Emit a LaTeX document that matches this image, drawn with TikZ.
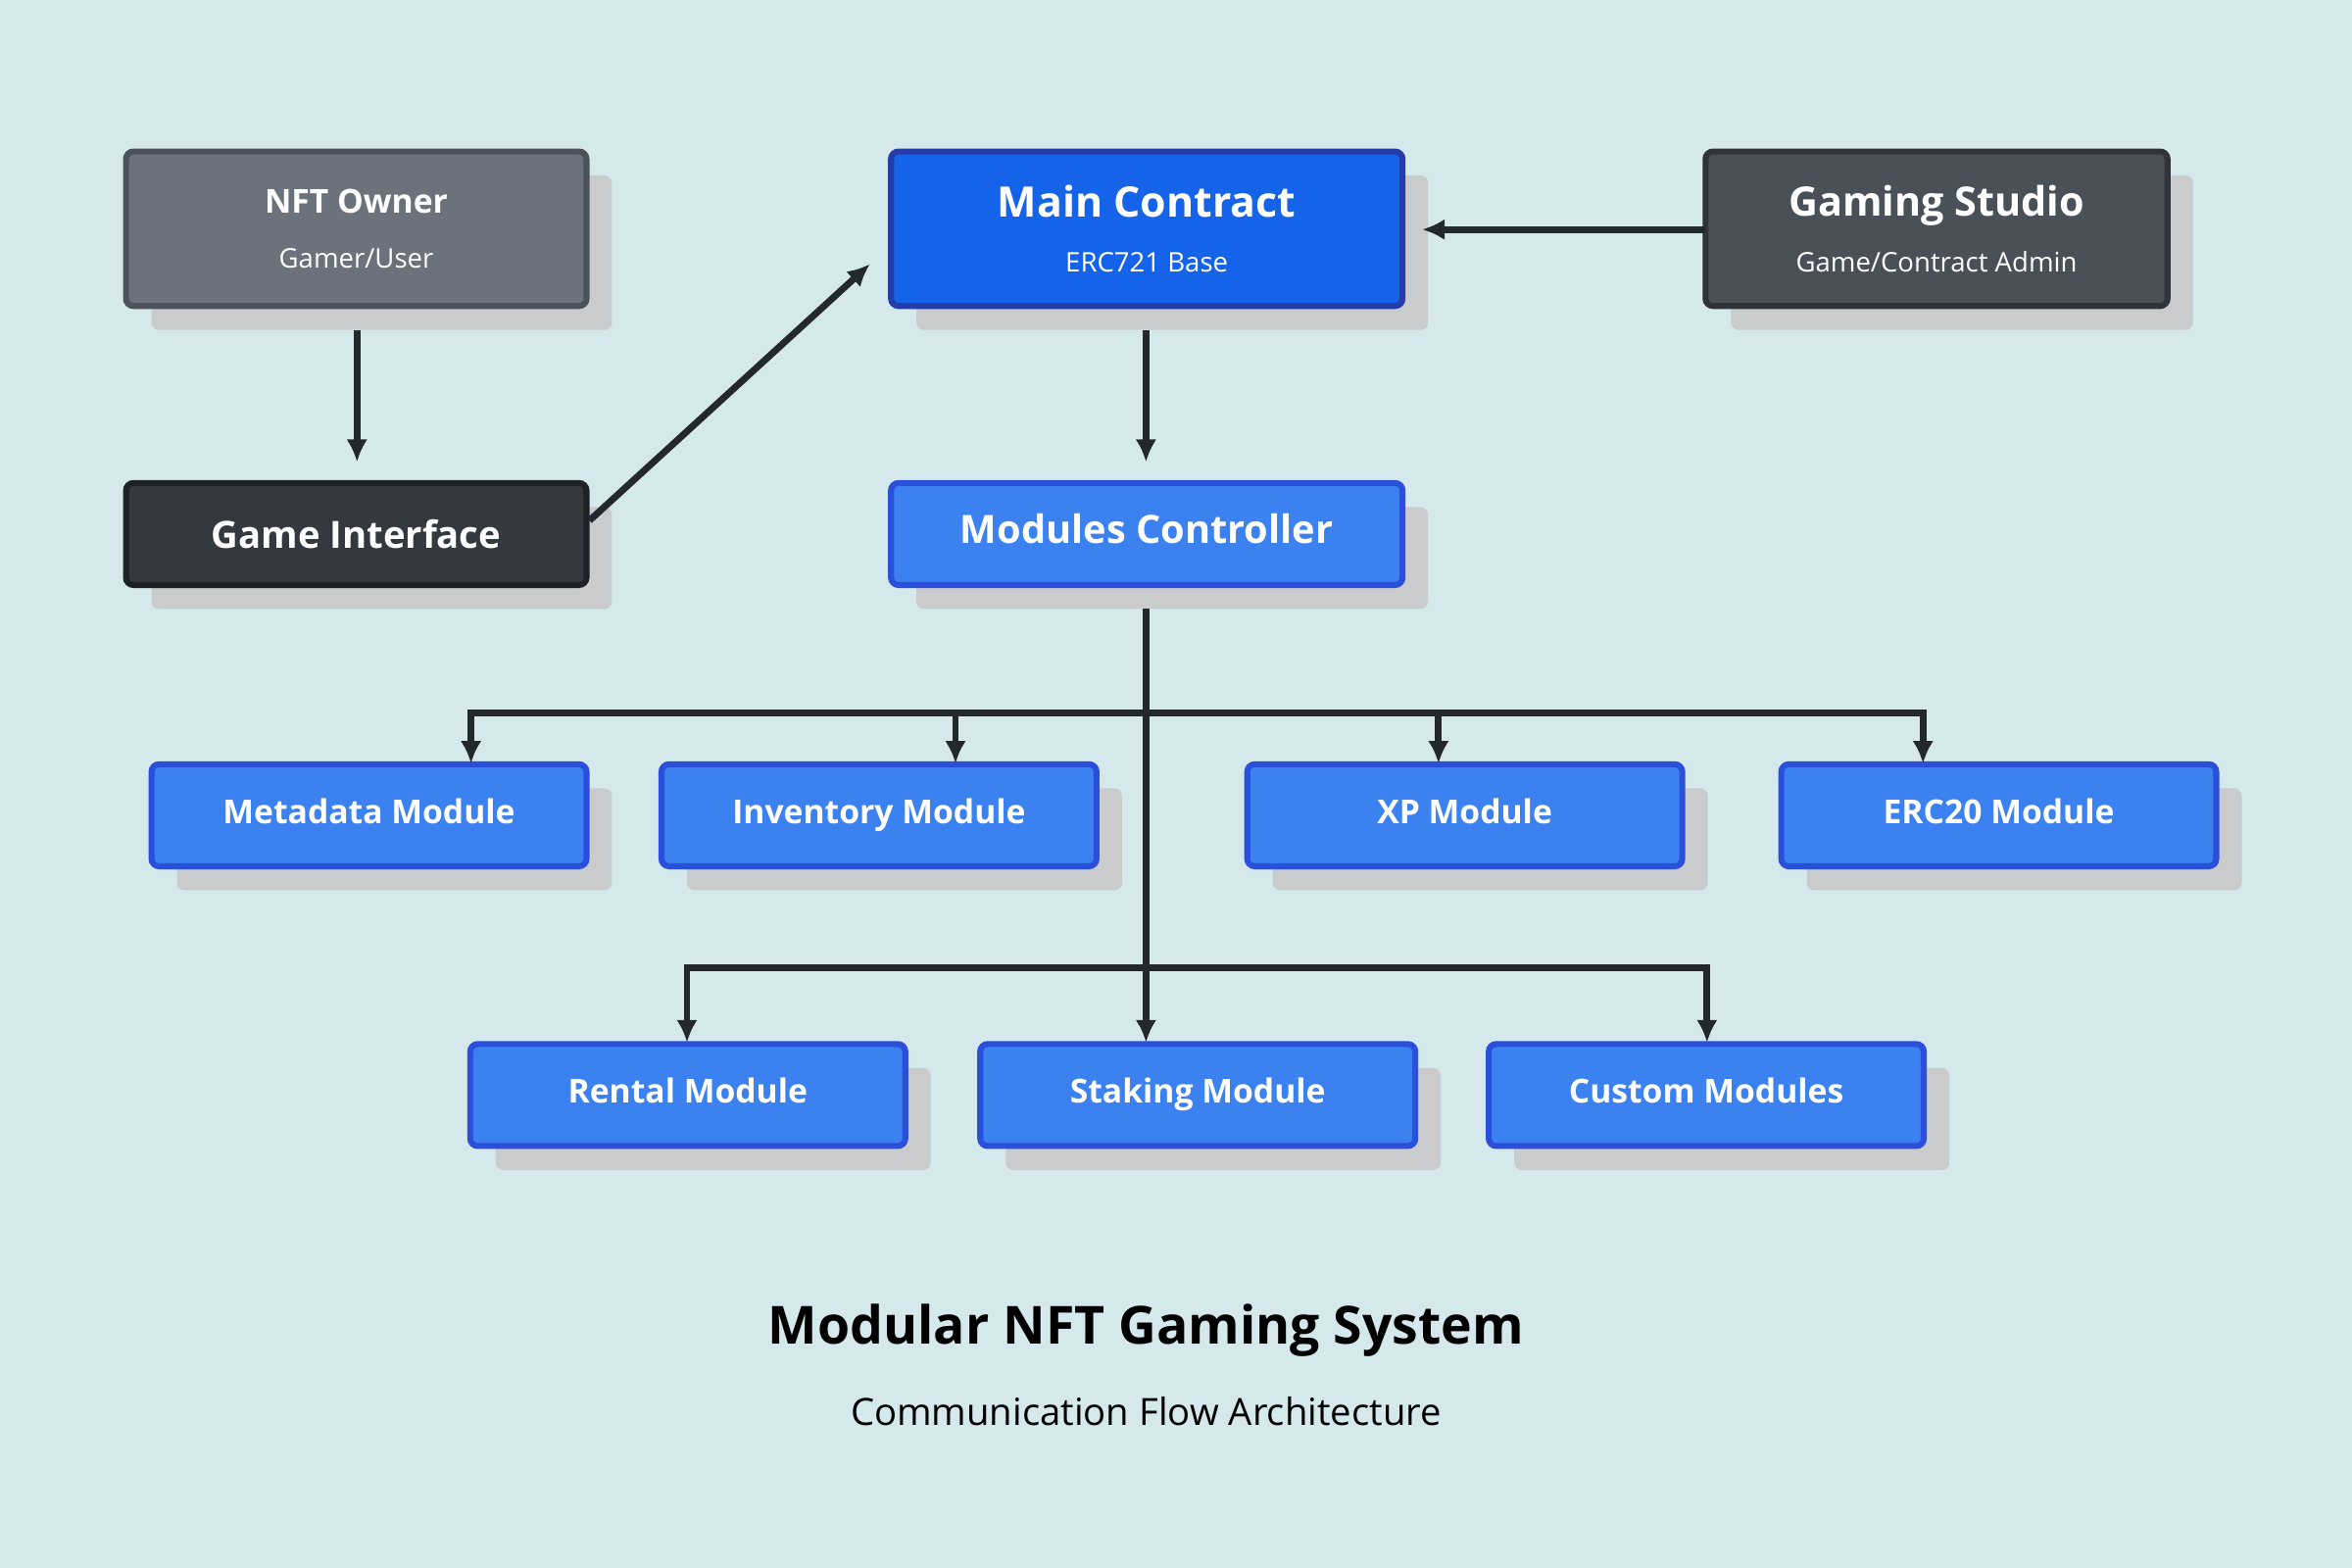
\documentclass[tikz,border=0pt]{standalone}
\usepackage{fontspec}
\setmainfont{Open Sans}
\usetikzlibrary{shadows,arrows.meta}
\definecolor{bg}{HTML}{D5E8EC}
\definecolor{shd}{HTML}{C9CBCC}
\definecolor{ln}{HTML}{23272E}
\begin{document}
\begin{tikzpicture}[x=1pt,y=-1pt,
 box/.style={draw, line width=4pt, rounded corners=5pt, align=center, text=white,
   general shadow={fill=shd, shadow xshift=17pt, shadow yshift=-16pt}},
 mod/.style={box, fill={rgb,255:red,59;green,130;blue,240}, draw={rgb,255:red,42;green,79;blue,218},
   minimum width=290pt, minimum height=68pt, text height=16pt, text depth=5pt, font=\fontsize{22}{26}\selectfont\bfseries},
 arr/.style={draw=ln, line width=4.5pt, -{Latex[length=15pt,width=14pt]}},
 ln/.style={draw=ln, line width=4.5pt}]
\fill[bg] (0,0) rectangle (1568,1045);
\useasboundingbox (0,0) rectangle (1568,1045);
\node[box, fill={rgb,255:red,107;green,114;blue,124}, draw={rgb,255:red,75;green,82;blue,92}, minimum width=307pt, minimum height=103pt, font=\fontsize{18}{36}\selectfont] (owner) at (237.5,152.5)
 {{\fontsize{22}{28}\selectfont\bfseries NFT Owner}\\{Gamer/User}};
\node[box, fill={rgb,255:red,52;green,57;blue,64}, draw={rgb,255:red,30;green,33;blue,38}, minimum width=307pt, minimum height=68pt, font=\fontsize{25}{30}\selectfont\bfseries] (gi) at (237.5,356) {Game Interface};
\node[box, fill={rgb,255:red,20;green,99;blue,232}, draw={rgb,255:red,36;green,60;blue,168}, minimum width=341pt, minimum height=103pt, font=\fontsize{18}{37}\selectfont] (main) at (764.5,152.5)
 {{\fontsize{28}{34}\selectfont\bfseries Main Contract}\\{ERC721 Base}};
\node[box, fill={rgb,255:red,73;green,80;blue,87}, draw={rgb,255:red,48;green,52;blue,58}, minimum width=308pt, minimum height=103pt, font=\fontsize{18}{37}\selectfont] (studio) at (1291,152.5)
 {{\fontsize{27}{34}\selectfont\bfseries Gaming Studio}\\{Game/Contract Admin}};
\node[mod, minimum width=341pt, text height=19pt, text depth=6pt, font=\fontsize{26}{32}\selectfont\bfseries] (ctrl) at (764.5,356) {Modules Controller};
\node[mod] (meta) at (246,543.5) {Metadata Module};
\node[mod] (inv) at (586,543.5) {Inventory Module};
\node[mod] (xp) at (976.5,543.5) {XP Module};
\node[mod] (erc) at (1332.5,543.5) {ERC20 Module};
\node[mod] (rent) at (458.5,730) {Rental Module};
\node[mod] (stak) at (798.5,730) {Staking Module};
\node[mod] (cust) at (1137.5,730) {Custom Modules};
\coordinate (o1) at (238,220); \coordinate (o2) at (238,308);
\draw[arr] (o1) -- (o2);
\coordinate (g1) at (393,347); \coordinate (g2) at (580,176);
\draw[arr] (g1) -- (g2);
\coordinate (s1) at (1137,153); \coordinate (s2) at (948,153);
\draw[arr] (s1) -- (s2);
\coordinate (m1) at (764,220); \coordinate (m2) at (764,308);
\draw[arr] (m1) -- (m2);
\coordinate (c1) at (764,406);
\draw[arr] (c1) -- (764,695);
\draw[ln] (314,475) -- (1282,475);
\draw[ln] (458,645) -- (1138,645);
\foreach \x in {314,637,959,1282} \draw[arr] (\x,472.75) -- (\x,509);
\foreach \x in {458,1138} \draw[arr] (\x,642.75) -- (\x,695);
\node[font=\fontsize{35}{40}\selectfont\bfseries] (title) at (764,887) {Modular NFT Gaming System};
\node[font=\fontsize{25}{30}\selectfont] (sub) at (764,941) {Communication Flow Architecture};
\end{tikzpicture}
\end{document}
